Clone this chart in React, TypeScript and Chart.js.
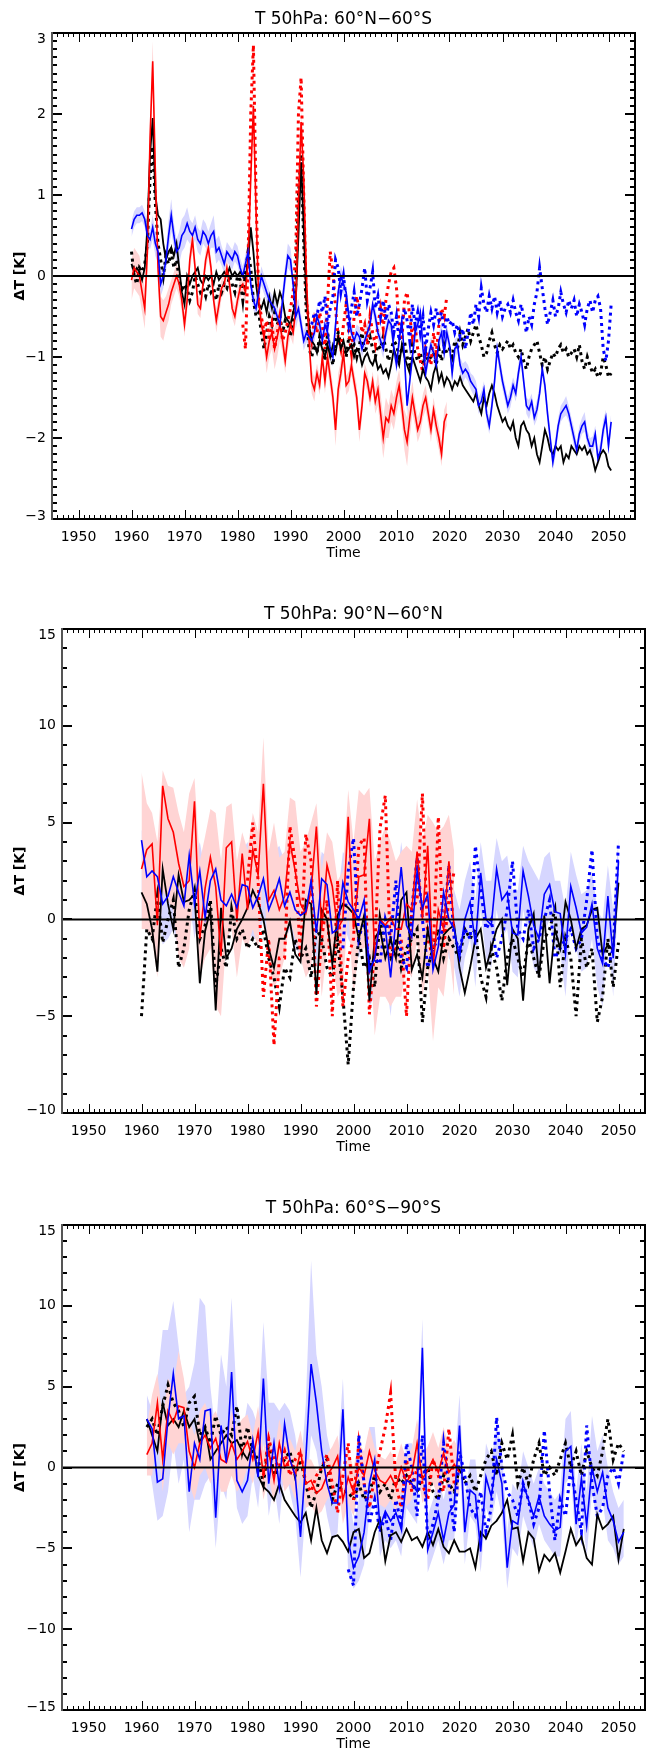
import { useEffect, useRef } from "react";
import { Chart, registerables } from "chart.js";

Chart.register(...registerables);

const FONT = "'DejaVu Sans', 'Liberation Sans', sans-serif";
const RED = "#ff0000";
const BLUE = "#0000ff";
const BLACK = "#000000";
const PINK = "#ffd4d4";
const LAVENDER = "#d6d6ff";

const X_MIN = 1945;
const X_MAX = 2055;
const YEAR_TICKS = [1950, 1960, 1970, 1980, 1990, 2000, 2010, 2020, 2030, 2040, 2050];

// ---------- Panel 1: 60°N–60°S (half-year samples) ----------
const P1_Y_TICKS = [-3, -2, -1, 0, 1, 2, 3];

const p1RedSolid = [
  -0.05, 0.1, 0.05, 0.0, -0.2, -0.4, 0.3, 1.7, 2.65, 1.3, 0.1, -0.5, -0.55, -0.45, -0.35, -0.2, -0.1, 0.0, -0.1, -0.3,
  -0.6, -0.3, 0.2, 0.45, 0.1, -0.35, -0.4, -0.1, 0.2, 0.35, 0.1, -0.3, -0.55, -0.35, -0.15, -0.1, 0.1, -0.1, -0.4, -0.5,
  -0.3, -0.15, -0.1, -0.2, 0.2, 1.2, 2.1, 0.8, -0.3, -0.6, -0.75, -1.0, -0.8, -0.7, -0.9, -0.75, -0.6, -0.8, -1.05, -0.75,
  -0.6, -0.7, -0.4, 0.9, 1.9, 1.2, 0.0, -0.8, -1.3, -1.4, -1.2, -1.35, -1.0, -1.3, -1.0, -1.25, -1.5, -1.9, -1.4, -1.2,
  -0.95, -1.35, -1.3, -1.1, -1.3, -1.5, -1.9, -1.6, -1.2, -1.3, -1.5, -1.3, -1.55, -1.4, -1.7, -2.0, -1.75, -1.8, -1.6, -1.7,
  -1.5, -1.35, -1.6, -1.9, -2.05, -1.75, -1.5, -1.7, -1.9, -1.8, -1.6, -1.5, -1.7, -1.9, -1.65, -1.85, -2.0, -2.2, -1.8, -1.7,
];
const p1RedSpread = [
  0.25, 0.25, 0.25, 0.25, 0.25, 0.25, 0.25, 0.25, 0.25, 0.25, 0.25, 0.25, 0.25, 0.2, 0.2, 0.15, 0.15, 0.15, 0.15, 0.15,
  0.15, 0.15, 0.15, 0.15, 0.12, 0.12, 0.12, 0.12, 0.12, 0.12, 0.12, 0.12, 0.15, 0.15, 0.12, 0.12, 0.12, 0.12, 0.12, 0.12,
  0.12, 0.12, 0.12, 0.15, 0.15, 0.15, 0.15, 0.15, 0.15, 0.15, 0.15, 0.2, 0.2, 0.2, 0.25, 0.25, 0.2, 0.15, 0.15, 0.15,
  0.15, 0.15, 0.15, 0.15, 0.15, 0.15, 0.15, 0.15, 0.15, 0.15, 0.12, 0.12, 0.12, 0.15, 0.15, 0.15, 0.15, 0.2, 0.2, 0.15,
  0.15, 0.12, 0.12, 0.12, 0.12, 0.15, 0.15, 0.15, 0.12, 0.12, 0.12, 0.12, 0.15, 0.2, 0.25, 0.25, 0.25, 0.2, 0.2, 0.2,
  0.2, 0.2, 0.2, 0.25, 0.3, 0.25, 0.2, 0.15, 0.15, 0.15, 0.15, 0.15, 0.15, 0.15, 0.15, 0.15, 0.15, 0.15, 0.15, 0.15,
];
const p1RedDotted = [
  -0.6, -0.9, 0.2, 2.0, 2.85, 1.0, -0.3, -0.5, -0.7, -0.55, -0.8, -0.6, -0.9, -0.7, -0.5, -0.8, -0.7, -0.55,
  -0.4, -0.2, 0.3, 2.0, 2.45, 1.0, -0.3, -0.6, -0.8, -0.55, -0.7, -0.45, -0.6, -0.9, -0.3, 0.3, 0.05, -0.4, -0.75, -0.9,
  -0.6, -0.35, -0.7, -0.95, -0.5, -0.25, -0.45, -0.7, -0.6, -0.85, -0.5, -0.7, -0.85, -0.6, -0.4, -0.65, -0.3, -0.1, 0.05, 0.1,
  -0.15, -0.6, -0.8, -0.3, -0.2, -0.5, -0.75, -0.6, -0.9, -1.05, -1.2, -0.9, -1.0, -1.1, -0.7, -0.95, -0.6, -0.4, -0.5, -0.25,
];
const p1BlueSolid = [
  0.58, 0.7, 0.75, 0.75, 0.78, 0.7, 0.5, 0.45, 0.6, 0.4, 0.3, -0.1, 0.0, 0.2, 0.5, 0.75, 0.5, 0.3, 0.35, 0.5,
  0.55, 0.65, 0.55, 0.5, 0.6, 0.45, 0.4, 0.55, 0.5, 0.4, 0.5, 0.55, 0.3, 0.35, 0.25, 0.15, 0.3, 0.25, 0.2, 0.3,
  0.25, 0.1, 0.0, 0.15, 0.3, -0.1, -0.3, -0.4, -0.2, 0.0, -0.1, -0.2, -0.3, -0.35, -0.4, -0.5, -0.6, -0.3, 0.0, 0.25,
  0.2, -0.1, -0.5, -0.4, -0.6, -0.8, -0.7, -0.75, -0.8, -0.7, -0.5, -0.6, -0.8, -0.6, -0.7, -0.9, -1.0, -0.6, -0.2, 0.0,
  -0.1, -0.2, -0.5, -0.7, -0.8, -0.7, -0.75, -0.9, -0.8, -0.7, -0.6, -0.35, -0.5, -0.7, -0.8, -0.9, -0.7, -0.55, -0.6, -0.9,
  -1.1, -0.8, -0.55, -1.0, -1.6, -1.3, -1.0, -0.7, -0.6, -0.45, -0.9, -1.2, -1.0, -0.85, -0.95, -1.1, -0.8, -0.7, -0.95, -0.7,
  -0.85, -1.2, -0.9, -0.85, -1.1, -1.2, -1.15, -1.2, -1.3, -1.35, -1.4, -1.6, -1.55, -1.4, -1.7, -1.85, -1.6, -1.3, -0.9, -1.1,
  -1.3, -1.45, -1.6, -1.5, -1.35, -1.45, -1.2, -1.0, -1.3, -1.6, -1.65, -1.55, -1.75, -1.65, -1.45, -1.15, -1.35, -1.7, -2.0, -2.3,
  -2.1, -1.85, -1.7, -1.65, -1.6, -1.7, -1.85, -2.0, -2.15, -1.95, -1.85, -1.8, -2.0, -2.1, -2.1, -1.95, -2.25, -2.15, -1.9, -1.75,
  -2.1, -1.8,
];
const p1BlueSpread = [
  0.1, 0.1, 0.1, 0.1, 0.1, 0.1, 0.12, 0.12, 0.15, 0.15, 0.15, 0.15, 0.15, 0.15, 0.2, 0.2, 0.15, 0.15, 0.2, 0.2,
  0.2, 0.2, 0.15, 0.15, 0.15, 0.15, 0.15, 0.15, 0.15, 0.15, 0.15, 0.2, 0.15, 0.15, 0.12, 0.12, 0.12, 0.12, 0.12, 0.12,
  0.12, 0.12, 0.12, 0.12, 0.12, 0.12, 0.12, 0.12, 0.12, 0.12, 0.12, 0.12, 0.12, 0.12, 0.12, 0.12, 0.12, 0.15, 0.15, 0.15,
  0.15, 0.15, 0.15, 0.12, 0.12, 0.12, 0.12, 0.12, 0.12, 0.12, 0.12, 0.12, 0.12, 0.12, 0.12, 0.12, 0.12, 0.12, 0.12, 0.12,
  0.12, 0.1, 0.1, 0.12, 0.1, 0.1, 0.12, 0.1, 0.1, 0.12, 0.1, 0.1, 0.12, 0.1, 0.1, 0.12, 0.1, 0.1, 0.12, 0.1,
  0.1, 0.12, 0.1, 0.1, 0.12, 0.1, 0.1, 0.12, 0.1, 0.1, 0.12, 0.1, 0.1, 0.1, 0.12, 0.1, 0.1, 0.12, 0.1, 0.1,
  0.1, 0.1, 0.12, 0.1, 0.1, 0.12, 0.1, 0.1, 0.1, 0.12, 0.1, 0.1, 0.12, 0.1, 0.1, 0.1, 0.12, 0.1, 0.1, 0.12,
  0.1, 0.1, 0.1, 0.12, 0.1, 0.1, 0.12, 0.1, 0.1, 0.1, 0.12, 0.1, 0.1, 0.12, 0.1, 0.1, 0.1, 0.12, 0.1, 0.1,
  0.12, 0.1, 0.1, 0.1, 0.12, 0.1, 0.1, 0.12, 0.1, 0.1, 0.1, 0.12, 0.1, 0.1, 0.12, 0.1, 0.1, 0.1, 0.12, 0.1,
  0.1, 0.1,
];
const p1BlueDotted = [
  -0.6, -0.45, -0.5, -0.3, -0.45, -0.25, -0.6, -0.4, -0.25, 0.2, 0.1, -0.2,
  0.0, -0.3, -0.6, -0.4, -0.2, -0.5, -0.35, -0.15, 0.1, -0.3, -0.15, 0.05, -0.4, -0.25, -0.5, -0.3, -0.55, -0.35, -0.45, -0.7,
  -0.5, -0.8, -0.6, -0.4, -0.55, -0.8, -0.35, -0.6, -0.45, -0.7, -0.5, -0.9, -0.65, -0.45, -0.6, -0.4, -0.55, -0.45, -0.7, -0.5,
  -0.6, -0.55, -0.7, -0.6, -0.75, -0.65, -0.9, -0.7, -0.45, -0.6, -0.35, -0.5, -0.15, -0.35, -0.45, -0.25, -0.4, -0.25, -0.45, -0.3,
  -0.5, -0.4, -0.35, -0.45, -0.3, -0.45, -0.55, -0.35, -0.5, -0.7, -0.5, -0.6, -0.35, -0.2, 0.1, -0.15, -0.4, -0.6, -0.45, -0.3,
  -0.5, -0.4, -0.2, -0.35, -0.45, -0.3, -0.4, -0.3, -0.5, -0.35, -0.45, -0.6, -0.4, -0.3, -0.45, -0.3, -0.25, -0.4, -0.9, -1.05,
  -0.8, -0.35,
];
const p1BlackSolid = [
  0.15, 0.05, 0.1, 0.05, -0.05, 0.1, 0.6, 1.5, 1.95, 1.0, 0.75, 0.7, 0.4, 0.2, 0.3, 0.35, 0.25, 0.4, 0.1, -0.2,
  -0.35, 0.0, -0.1, 0.0, 0.05, 0.1, -0.05, -0.1, 0.0, -0.05, 0.0, -0.1, 0.05, -0.05, 0.0, 0.05, 0.0, 0.1, 0.0, 0.05,
  0.0, 0.05, 0.0, -0.05, 0.2, 0.6, 0.3, -0.1, -0.35, -0.4, -0.3, -0.45, -0.25, -0.4, -0.2, -0.35, -0.2, -0.3, -0.5, -0.55,
  -0.6, -0.45, -0.3, 0.5, 1.4, 0.6, -0.3, -0.6, -0.8, -0.85, -0.95, -0.8, -0.9, -1.0, -0.85, -1.0, -0.85, -0.95, -0.75, -0.9,
  -0.8, -0.95, -0.9, -0.85, -1.0, -0.9, -0.95, -1.1, -1.0, -0.95, -1.05, -1.1, -1.0, -1.15, -1.1, -1.2, -1.15, -1.25, -1.1, -0.9,
  -1.0, -1.1, -0.85, -1.0, -1.1, -1.2, -1.0, -1.1, -1.2, -1.3, -1.15, -1.25, -1.3, -1.4, -1.2, -1.1, -1.3, -1.2, -1.35, -1.25,
  -1.3, -1.4, -1.3, -1.35, -1.25, -1.35, -1.4, -1.45, -1.5, -1.55, -1.45, -1.6, -1.7, -1.5, -1.6, -1.45, -1.35, -1.45, -1.6, -1.7,
  -1.8, -1.75, -1.85, -1.9, -1.8, -2.0, -2.1, -1.85, -1.8, -1.9, -1.95, -2.1, -2.0, -2.2, -2.3, -2.1, -1.9, -2.0, -2.15, -2.2,
  -2.1, -2.15, -2.1, -2.3, -2.2, -2.25, -2.1, -2.15, -2.2, -2.1, -2.15, -2.1, -2.2, -2.15, -2.25, -2.4, -2.3, -2.2, -2.15, -2.2,
  -2.35, -2.4,
];
const p1BlackDotted = [
  0.3, 0.0, -0.1, 0.1, 0.05, 0.15, 0.4, 1.2, 1.6, 0.9, 0.4, 0.2, 0.0, 0.25, 0.15, 0.3, 0.1, 0.2, -0.05, -0.2,
  -0.1, -0.15, -0.3, -0.2, 0.0, -0.1, -0.2, -0.15, -0.25, -0.1, -0.2, -0.15, -0.3, -0.1, -0.2, -0.1, -0.15, 0.0, -0.1, -0.2,
  0.0, -0.05, -0.3, 0.05, 0.3, 0.1, -0.3, -0.5, -0.45, -0.7, -0.9, -0.7, -0.5, -0.6, -0.45, -0.6, -0.5, -0.7, -0.55, -0.6,
  -0.75, -0.5, -0.1, 1.0, 1.5, 0.4, -0.5, -0.9, -1.0, -0.85, -0.95, -0.75, -0.85, -1.05, -0.7, -0.95, -1.1, -0.8, -0.7, -0.85,
  -0.9, -1.0, -0.75, -0.9, -0.85, -1.0, -0.85, -0.7, -0.95, -0.85, -0.75, -0.9, -1.0, -0.85, -0.9, -0.75, -0.9, -1.05, -0.9, -0.8,
  -0.85, -1.0, -0.9, -0.8, -1.0, -1.1, -0.85, -0.95, -1.05, -0.95, -1.1, -0.95, -1.05, -1.0, -0.95, -1.1, -0.9, -1.05, -0.85, -0.95,
  -0.9, -1.0, -0.8, -0.9, -0.7, -0.85, -0.75, -0.65, -0.8, -0.7, -0.6, -0.75, -0.85, -1.0, -0.95, -0.8, -0.7, -0.85, -0.95, -0.85,
  -0.9, -0.85, -0.8, -0.9, -0.85, -0.95, -1.0, -0.9, -1.05, -1.15, -1.0, -0.9, -0.85, -0.8, -0.95, -1.1, -1.0, -1.15, -1.05, -0.95,
  -1.0, -0.9, -0.85, -0.95, -0.9, -1.0, -0.95, -0.9, -1.0, -0.85, -1.05, -1.15, -1.0, -1.1, -1.2, -1.15, -1.25, -1.2, -1.0, -1.1,
  -1.25, -1.2,
];

// ---------- Panel 2: 90°N–60°N (annual) ----------
const P2_Y_TICKS = [-10, -5, 0, 5, 10, 15];

const p2RedSolid = [
  2.6, 3.6, 3.9, -0.3, 6.9, 5.2, 4.5, 2.9, 1.7, 2.0,
  6.1, -1.0, 1.6, 3.2, 1.7, -1.9, 3.7, 4.0, -0.1, 3.4,
  0.5, 3.6, 2.3, 7.0, 1.0, 1.5, 0.5, 1.2, 4.0, 2.5,
  0.8, 0.3, 1.5, 4.8, -0.5, 2.8, 1.7, -0.5, 0.0, 5.3,
  -0.5, 2.2, 2.3, 5.2, -2.0, 0.0, -0.3, 0.1, -0.5, -0.5,
  0.8, 0.5, 3.5, 0.0, 3.8, -2.5, 0.5, -0.5, 3.0, -0.5,
];
const p2RedUpper = [
  7.6, 6.0, 5.5, 4.0, 7.7, 6.9, 6.8, 5.5, 4.5, 6.5,
  7.3, 3.0, 4.3, 5.7, 5.5, 3.0, 5.8, 6.0, 3.0, 4.5,
  3.6, 5.5, 4.5, 9.4, 3.5, 5.0, 3.2, 3.5, 6.3, 6.1,
  3.5, 4.0, 5.0, 6.0, 2.5, 4.5, 4.0, 2.0, 2.5, 6.7,
  4.0, 6.7, 6.4, 6.8, 3.0, 4.0, 4.8, 4.0, 3.0, 3.5,
  3.8, 3.5, 6.2, 4.0, 5.4, 5.0, 4.5, 4.8, 5.4, 3.5,
];
const p2RedLower = [
  -0.5, -0.5, -1.0, -3.0, 1.5, 1.0, 0.5, -2.0, -2.5, -1.5,
  2.0, -3.0, -2.0, -1.5, -4.5, -5.0, -1.0, -0.5, -3.0, -1.0,
  -1.5, -0.5, -1.5, 2.5, -2.5, -3.5, -3.0, -2.0, 0.0, -1.0,
  -2.0, -3.0, -2.5, 0.0, -4.0, -1.5, -2.0, -4.0, -3.5, 0.5,
  -4.0, -1.5, -1.5, -1.0, -6.0, -4.0, -4.0, -4.5, -4.0, -4.0,
  -2.5, -3.0, -1.0, -4.0, -2.5, -6.3, -3.5, -4.0, -1.5, -4.0,
];
const p2RedDotted = [
  2.0, 5.0, 2.0, -4.0, -1.0, -6.5, -2.0, -2.0, 4.8, 3.0,
  -2.0, 4.4, 3.0, -4.5, -1.0, 1.0, -5.0, 2.0, -4.5, -2.0,
  -1.0, 3.8, 4.2, -4.9, -1.5, 4.7, 6.4, -2.0, -1.5, -1.0,
  -5.0, 0.5, 1.0, 6.5, -1.0, -2.0, 5.3, -1.5, 1.0, 2.5,
];
const p2BlueSolid = [
  4.1, 2.2, 2.5, 2.2, 0.8, 1.2, 2.2, 1.4, 0.7, 3.3,
  0.8, 2.5, 0.1, 2.0, 2.6, 1.0, 0.7, 1.3, 0.6, 1.8,
  1.7, 0.6, 1.2, 2.1, 0.5, 1.2, 2.1, 0.7, 1.4, 0.5,
  0.2, 0.4, 2.0, -0.7, 2.1, 1.8, -0.7, -0.5, 1.9, 0.9,
  0.5, 0.0, 1.0, -2.7, -2.0, -0.1, -0.4, -3.0, 0.0, 2.7,
  -0.3, -0.9, 2.5, 0.6, 1.3, -2.6, -1.4, 1.4, 0.0, -0.5,
  -2.0, 0.0, 0.9, -1.3, 2.4, 0.0, -0.3, 2.6, 1.0, 1.4,
  -0.7, -0.8, 2.5, 1.2, -0.3, -1.0, 1.3, 1.8, 0.4, 0.3,
  -1.8, 1.7, 0.6, -0.7, -0.4, 0.8, -1.5, -2.3, 1.2, -2.0,
  3.0,
];
const p2BlueUpper = [
  4.6, 4.3, 4.2, 3.9, 3.5, 3.5, 4.0, 3.5, 3.0, 4.6,
  3.0, 4.0, 2.5, 4.0, 4.8, 3.0, 2.7, 3.5, 3.0, 3.5,
  4.0, 3.0, 3.5, 4.5, 3.0, 3.5, 3.8, 3.0, 3.5, 3.0,
  2.0, 2.5, 3.5, 1.5, 3.5, 3.2, 1.0, 1.0, 3.5, 3.0,
  2.5, 1.5, 2.5, -0.5, 0.5, 1.5, 1.5, -0.5, 1.5, 4.0,
  2.0, 1.5, 4.0, 2.5, 3.0, -0.5, 1.0, 3.0, 2.0, 1.5,
  0.5, 2.0, 3.0, 1.0, 4.0, 2.0, 2.0, 4.2, 3.0, 3.3,
  1.5, 1.5, 3.8, 3.0, 2.5, 2.0, 3.2, 3.5, 2.0, 2.0,
  0.5, 3.5, 2.3, 1.3, 1.5, 2.5, 0.5, 0.0, 2.8, 0.5,
  4.2,
];
const p2BlueLower = [
  0.0, -0.5, 0.5, 0.5, -1.3, -1.0, -0.5, -1.5, -1.2, 1.0,
  -1.0, 0.5, -1.5, 0.0, 0.5, -1.0, -1.0, -0.5, -1.0, 0.0,
  -0.5, -1.0, -1.0, 0.0, -1.2, -0.5, 0.0, -1.2, -0.5, -1.5,
  -1.8, -1.5, 0.0, -2.5, 0.0, 0.0, -2.5, -2.3, 0.0, -1.0,
  -1.5, -2.0, -1.0, -4.5, -4.0, -2.0, -2.5, -5.0, -2.0, 1.0,
  -2.5, -3.0, 0.5, -1.2, -0.5, -4.5, -3.5, -0.5, -2.0, -2.5,
  -4.0, -2.0, -1.0, -3.5, 0.5, -2.0, -2.5, 0.5, -1.0, -0.5,
  -2.7, -3.0, 0.5, -0.8, -2.5, -3.0, -0.7, 0.0, -1.5, -1.7,
  -4.0, -0.3, -1.5, -2.7, -2.5, -1.0, -3.5, -4.5, -0.5, -4.0,
  1.5,
];
const p2BlueDotted = [
  -1.5, 2.5,
  4.2, -1.0, 0.0, -2.5, -2.0, -2.3, 0.0, -1.0, 2.0, -2.0,
  -2.5, 0.5, 3.2, 0.0, -2.5, -1.5, -1.0, -0.5, 2.8, -1.0,
  -1.5, -0.5, -1.0, 3.8, 1.5, -0.5, 0.0, -2.0, -1.0, 0.5,
  3.0, -0.5, -1.0, 0.5, -1.5, -1.0, 0.0, 1.0, -2.0, -1.5,
  -1.0, -0.5, -1.5, -1.0, 1.0, 3.6, -1.0, -2.0, -2.5, -1.5,
  4.0,
];
const p2BlackSolid = [
  1.4, 0.8, -0.5, -2.7, 2.6, 0.8, -0.5, 2.3, 0.9, 1.0,
  1.3, -3.3, -0.6, 0.5, -4.7, 0.6, -2.0, -1.5, -0.5, 0.0,
  0.6, 1.5, 0.9, 0.0, -1.5, -2.5, -1.0, -1.0, -0.1, -1.8,
  -2.2, 1.0, 0.8, -3.9, 0.5, 0.0, -2.3, 0.2, 0.8, 0.6,
  0.3, -1.0, 0.2, -4.2, -1.0, -0.5, -2.0, -1.0, -2.0, 1.0,
  1.4, -2.6, -1.8, -3.0, -0.5, -2.0, -2.7, -0.8, -0.5, -0.3,
  -2.5, -3.8, -2.5, -1.0, -0.5, -2.5, -1.5, -0.5, 0.0, -3.4,
  -0.5, -1.0, -4.2, -0.5, 0.3, -3.0, 0.2, -3.3, -0.5, -1.5,
  0.9, 0.0, -1.5, -0.5, -0.3, 0.5, 0.6, -1.8, -1.3, -1.6,
  1.9,
];
const p2BlackDotted = [
  -5.0, -0.5, -1.0, 1.2, -1.2, 0.0, 1.0, -2.5, -1.5, 0.5,
  1.5, -1.0, -0.3, 1.0, -3.5, -1.5, -2.5, 0.5, -1.0, -0.5,
  -1.5, -1.0, -1.5, -0.5, -2.0, -3.0, -4.5, -2.5, -3.0, -1.0,
  -2.0, -1.5, -3.0, -0.5, -1.0, -2.5, -3.0, -1.0, -4.0, -7.5,
  -3.5, -1.0, -2.5, -2.0, -3.5, 0.0, -1.5, -2.0, -1.0, -2.5,
  -1.5, -1.0, -0.5, -5.3, -2.5, -1.5, -0.5, -2.0, -1.0, -1.5,
  -2.0, -0.5, -1.0, -0.5, -3.0, -4.0, -1.5, -2.5, -4.2, -2.0,
  -1.0, -2.0, -3.0, -1.0, -2.0, -3.0, -1.0, -0.5, 0.5, -3.5,
  -1.0, -2.0, -5.0, -1.0, -2.5, -1.5, -5.3, -4.0, -1.0, -3.5,
  -1.2,
];

// ---------- Panel 3: 60°S–90°S (annual) ----------
const P3_Y_TICKS = [-15, -10, -5, 0, 5, 10, 15];

const p3RedSolid = [
  0.8, 1.5, 4.0, 0.5, 3.5, 2.8, 3.8, 3.7, 1.0, 0.0,
  1.5, 2.0, 1.2, 1.8, 0.5, 0.3, 1.5, 0.5, 1.0, 1.6,
  0.5, 2.2, -0.5, 1.0, -0.8, 1.5, 0.0, 0.5, -0.5, 1.0,
  -1.0, -0.8, -1.6, -1.3, -0.5, 0.0, 0.7, -2.0, -0.6, -1.5,
  0.0, -0.5, 1.0, -0.2, -0.8, -1.0, -0.5, -1.2, 0.0, -0.9,
  -0.4, 1.5, -0.7, -0.2, 0.5, -0.3, 0.9, -0.3, 0.2, -0.3,
];
const p3RedUpper = [
  2.5, 4.5, 5.8, 3.0, 5.5, 5.0, 7.2, 5.5, 3.0, 2.0,
  3.5, 4.0, 3.0, 3.5, 2.5, 2.0, 3.5, 2.5, 3.0, 3.3,
  2.0, 3.8, 1.0, 2.5, 0.7, 3.0, 1.5, 1.8, 1.0, 2.3,
  0.5, 0.5, -0.2, 0.0, 0.8, 1.3, 2.0, -0.5, 1.0, 0.0,
  1.5, 1.0, 2.5, 1.2, 0.7, 0.5, 1.0, 0.3, 1.5, 0.5,
  1.2, 3.0, 0.8, 1.3, 2.2, 1.2, 2.5, 1.2, 1.7, 1.0,
];
const p3RedLower = [
  -0.5, -0.5, 2.0, -1.5, 1.5, 0.8, 1.5, 1.5, -1.0, -2.0,
  -0.5, 0.0, -1.0, 0.0, -1.5, -1.5, -0.5, -1.5, -1.0, 0.0,
  -1.0, 0.5, -2.0, -0.5, -2.3, 0.0, -1.5, -1.0, -2.0, -0.5,
  -2.5, -2.3, -3.0, -2.7, -2.0, -1.5, -0.7, -3.5, -2.2, -3.0,
  -1.5, -2.0, -0.5, -1.7, -2.3, -2.5, -2.0, -2.7, -1.5, -2.4,
  -2.0, 0.0, -2.2, -1.7, -1.0, -1.8, -0.5, -1.8, -1.3, -1.8,
];
const p3RedDotted = [
  -0.5, 1.8, 0.5, 0.0, 1.0, -0.5, 0.5,
  1.0, -1.0, -1.5, -0.5, 0.0, 0.8, -1.0, -2.8, -0.5, 1.5,
  -2.0, 1.5, -1.0, -2.5, -0.5, 1.0, 2.5, 4.6, -1.0, -2.5,
  0.5, -1.5, 0.0, -1.0, -2.0, 0.5, -0.5, -1.5, 2.4, -1.0,
];
const p3BlueSolid = [
  3.0, 2.4, -0.9, -0.7, 3.0, 5.8, 3.0, 3.2, -1.5, 1.5,
  0.5, 3.5, 3.6, -3.1, 2.6, 0.3, 5.9, -0.8, -1.5, -0.8,
  1.7, -0.6, 5.5, -1.0, 1.5, -1.2, 2.7, 0.5, -0.5, -4.3,
  0.5, 6.4, 4.0, 1.0, -1.0, -2.2, -2.2, 3.6, -4.5, -6.2,
  -5.5, -4.0, -1.0, 0.5, -3.7, -2.7, -3.3, -2.8, -3.8, -0.8,
  -1.0, -1.5, 7.4, -5.1, -4.0, -2.8, -4.5, -2.8, -2.3, 2.6,
  -4.0, -1.4, -1.7, -5.2, -0.6, -1.8, 0.5, -1.0, -6.2, -3.3,
  -3.5, -1.0, -2.0, -3.0, -1.8, -3.0, -3.5, -3.9, -3.7, 1.0,
  1.3, -3.5, -0.7, -3.6, 0.0, -1.5, -0.3, -2.5, -3.3, -4.6,
  -4.0,
];
const p3BlueUpper = [
  4.5, 3.5, 5.5, 8.5, 8.5, 10.3, 7.5, 4.5, 5.0, 6.5,
  10.5, 10.0, 5.0, 2.0, 7.0, 5.0, 10.5, 4.0, 2.0, 4.0,
  3.5, 2.5, 9.0, 4.0, 4.0, 3.5, 4.0, 3.5, 2.0, -0.5,
  4.0, 12.8, 7.0, 5.0, 2.0, 0.5, 0.5, 5.5, -1.5, -3.5,
  -2.0, 0.0, 2.5, 2.5, -1.5, -1.0, -1.5, -1.0, -1.5, 1.5,
  1.5, 1.0, 9.2, -3.0, -2.0, -0.5, -2.0, -0.5, 0.0, 4.5,
  -2.0, 0.5, 0.5, -3.0, 1.5, 0.5, 2.5, 1.0, -4.0, -1.0,
  -1.5, 1.0, 0.0, -1.0, 0.0, -1.0, -1.5, -2.0, -1.5, 3.0,
  3.5, -1.5, 1.5, -1.5, 3.2, 1.0, 2.0, 0.0, -1.5, -2.5,
  -2.0,
];
const p3BlueLower = [
  1.0, -1.0, -3.3, -3.0, -1.5, 1.5, -1.0, 0.5, -4.0, -2.0,
  -2.0, -1.0, -0.5, -5.0, -1.0, -2.0, 2.0, -2.5, -3.5, -3.0,
  -0.5, -2.5, 1.5, -3.0, -1.0, -3.5, 0.0, -1.5, -3.0, -6.8,
  -2.5, 2.0, 1.0, -1.0, -3.0, -4.5, -4.0, 1.5, -6.5, -7.5,
  -7.0, -6.0, -3.0, -1.5, -5.5, -4.5, -5.0, -4.5, -5.5, -2.5,
  -3.0, -3.5, 5.5, -6.5, -5.5, -4.5, -6.0, -4.5, -4.5, 0.5,
  -6.0, -3.0, -3.5, -6.5, -2.5, -3.5, -1.5, -3.0, -7.5, -5.0,
  -5.5, -3.0, -4.0, -5.0, -3.5, -4.5, -5.0, -5.5, -5.5, -1.0,
  -0.5, -5.0, -2.5, -5.5, -1.5, -3.5, -2.0, -4.5, -5.0, -6.0,
  -5.5,
];
const p3BlueDotted = [
  -6.3, -7.3,
  2.0, -1.0, -3.5, -2.0, -4.0, -3.0, -4.5, -2.0, -3.5, 1.5,
  0.0, -3.0, 2.0, -4.5, -3.5, -2.0, 1.5, -1.0, -4.0, 1.0,
  -0.5, -2.5, -3.0, -1.5, -4.0, -2.5, 3.1, 0.0, -1.5, -2.0,
  -3.0, -1.0, -2.0, -3.5, -2.5, 2.3, -1.5, -4.5, -2.0, -3.0,
  0.0, -2.0, -4.0, 2.6, -1.0, -3.0, -2.5, -0.5, 0.0, -1.0,
  1.0,
];
const p3BlackSolid = [
  3.0, 2.0, 1.0, 4.0, 2.6, 3.0, 2.5, 3.5, 2.5, 3.0,
  1.5, 2.5, 0.5, 1.0, 1.5, 2.0, 1.5, 1.7, 1.0, 0.5,
  1.5, -0.5, -1.2, -1.5, -2.0, -1.0, -2.0, -2.5, -3.0, -3.4,
  -2.8, -4.5, -2.5, -4.5, -5.3, -4.3, -4.2, -4.6, -5.2, -4.0,
  -3.8, -5.6, -5.3, -4.0, -3.2, -5.8, -4.2, -4.0, -4.6, -3.8,
  -4.5, -4.3, -4.9, -4.0, -4.8, -3.8, -4.9, -5.3, -4.5, -5.2,
  -5.2, -5.0, -6.2, -4.0, -4.4, -3.6, -3.3, -2.8, -2.0, -3.8,
  -3.7, -5.8, -4.0, -4.4, -6.4, -5.4, -5.8, -5.3, -6.5, -5.2,
  -3.8, -4.8, -4.3, -5.6, -6.0, -2.9, -3.8, -3.5, -3.0, -5.7,
  -3.8,
];
const p3BlackDotted = [
  2.5, 3.0, 2.0, 3.8, 5.1, 4.0, 3.5, 2.5, 4.0, 4.4,
  2.0, 2.5, 1.5, 3.2, 2.0, 2.5, 2.0, 3.8, 1.0, 2.5,
  1.0, 0.5, -1.0, 1.5, -0.5, 0.0, 0.5, 1.0, -0.5, 0.5,
  -1.0, -2.5, -1.5, 0.0, 0.5, -2.0, -1.0, -1.5, -1.5, -2.0,
  -1.0, -2.0, -1.5, -0.5, -1.5, -1.0, -2.0, -0.5, -1.0, -0.5,
  -1.0, -1.5, -0.5, 0.0, -1.5, -2.0, -0.5, -1.0, -1.5, 0.0,
  -1.0, -0.5, -1.5, -0.5, 0.5, 1.0, -0.5, 1.5, 0.5, 2.0,
  -1.0, 0.0, -1.0, 0.5, 1.5, -0.5, 0.0, -0.5, 0.5, 1.5,
  0.0, 1.0, -0.5, 1.0, 0.0, -0.5, 1.0, 3.0, 0.5, 1.5,
  1.0,
];

type Series = { start: number; step: number; values: number[] };
type Band = { start: number; step: number; lower: number[]; upper: number[] };

interface PanelCfg {
  title: string;
  top: number;
  height: number;
  pad: { left: number; top: number; right: number; bottom: number };
  titleGap: number;
  yMin: number;
  yMax: number;
  yMinor: number;
  yTicks: number[];
  redSolid: Series;
  redDotted: Series;
  blueSolid: Series;
  blueDotted: Series;
  blackSolid: Series;
  blackDotted: Series;
  redBand: Band;
  blueBand: Band;
}

const withSpread = (start: number, step: number, values: number[], spread: number[]): Band => ({
  start,
  step,
  lower: values.map((v, i) => v - spread[i]),
  upper: values.map((v, i) => v + spread[i]),
});

const PANELS: PanelCfg[] = [
  {
    title: "T 50hPa: 60°N−60°S",
    top: 0,
    height: 575,
    pad: { left: 52, top: 33, right: 11, bottom: 56 },
    titleGap: 13,
    yMin: -3,
    yMax: 3,
    yMinor: 0.1,
    yTicks: P1_Y_TICKS,
    redSolid: { start: 1960, step: 0.5, values: p1RedSolid },
    redDotted: { start: 1981, step: 0.5, values: p1RedDotted },
    blueSolid: { start: 1960, step: 0.5, values: p1BlueSolid },
    blueDotted: { start: 1994, step: 0.5, values: p1BlueDotted },
    blackSolid: { start: 1960, step: 0.5, values: p1BlackSolid },
    blackDotted: { start: 1960, step: 0.5, values: p1BlackDotted },
    redBand: withSpread(1960, 0.5, p1RedSolid, p1RedSpread),
    blueBand: withSpread(1960, 0.5, p1BlueSolid, p1BlueSpread),
  },
  {
    title: "T 50hPa: 90°N−60°N",
    top: 575,
    height: 585,
    pad: { left: 62, top: 54, right: 1, bottom: 47 },
    titleGap: 14,
    yMin: -10,
    yMax: 15,
    yMinor: 1,
    yTicks: P2_Y_TICKS,
    redSolid: { start: 1960, step: 1, values: p2RedSolid },
    redDotted: { start: 1980, step: 1, values: p2RedDotted },
    blueSolid: { start: 1960, step: 1, values: p2BlueSolid },
    blueDotted: { start: 1998, step: 1, values: p2BlueDotted },
    blackSolid: { start: 1960, step: 1, values: p2BlackSolid },
    blackDotted: { start: 1960, step: 1, values: p2BlackDotted },
    redBand: { start: 1960, step: 1, lower: p2RedLower, upper: p2RedUpper },
    blueBand: { start: 1960, step: 1, lower: p2BlueLower, upper: p2BlueUpper },
  },
  {
    title: "T 50hPa: 60°S−90°S",
    top: 1160,
    height: 591,
    pad: { left: 62, top: 65, right: 1, bottom: 41 },
    titleGap: 16,
    yMin: -15,
    yMax: 15,
    yMinor: 1,
    yTicks: P3_Y_TICKS,
    redSolid: { start: 1961, step: 1, values: p3RedSolid },
    redDotted: { start: 1983, step: 1, values: p3RedDotted },
    blueSolid: { start: 1961, step: 1, values: p3BlueSolid },
    blueDotted: { start: 1999, step: 1, values: p3BlueDotted },
    blackSolid: { start: 1961, step: 1, values: p3BlackSolid },
    blackDotted: { start: 1961, step: 1, values: p3BlackDotted },
    redBand: { start: 1961, step: 1, lower: p3RedLower, upper: p3RedUpper },
    blueBand: { start: 1961, step: 1, lower: p3BlueLower, upper: p3BlueUpper },
  },
];

const toPoints = (start: number, step: number, values: number[]) =>
  values.map((v, i) => ({ x: start + i * step, y: v }));

function lineDataset(s: Series, color: string, dotted: boolean, order: number) {
  return {
    data: toPoints(s.start, s.step, s.values),
    borderColor: color,
    borderWidth: dotted ? 3 : color === BLACK ? 1.8 : 1.6,
    borderDash: dotted ? [3, 4] : [],
    borderCapStyle: "butt" as const,
    pointRadius: 0,
    fill: false,
    order,
  };
}

function buildDatasets(p: PanelCfg) {
  return [
    // 0: reference line at zero
    {
      data: [
        { x: X_MIN, y: 0 },
        { x: X_MAX, y: 0 },
      ],
      borderColor: BLACK,
      borderWidth: 2,
      pointRadius: 0,
      fill: false,
      order: 0,
    },
    lineDataset(p.blueSolid, BLUE, false, 1),
    lineDataset(p.redSolid, RED, false, 2),
    lineDataset(p.blackSolid, BLACK, false, 3),
    lineDataset(p.blueDotted, BLUE, true, 4),
    lineDataset(p.redDotted, RED, true, 5),
    lineDataset(p.blackDotted, BLACK, true, 6),
    // 7/8: red model spread
    {
      data: toPoints(p.redBand.start, p.redBand.step, p.redBand.upper),
      borderWidth: 0,
      borderColor: "rgba(0,0,0,0)",
      pointRadius: 0,
      fill: false,
      order: 7,
    },
    {
      data: toPoints(p.redBand.start, p.redBand.step, p.redBand.lower),
      borderWidth: 0,
      borderColor: "rgba(0,0,0,0)",
      backgroundColor: PINK,
      pointRadius: 0,
      fill: 7,
      order: 8,
    },
    // 9/10: blue model spread
    {
      data: toPoints(p.blueBand.start, p.blueBand.step, p.blueBand.upper),
      borderWidth: 0,
      borderColor: "rgba(0,0,0,0)",
      pointRadius: 0,
      fill: false,
      order: 9,
    },
    {
      data: toPoints(p.blueBand.start, p.blueBand.step, p.blueBand.lower),
      borderWidth: 0,
      borderColor: "rgba(0,0,0,0)",
      backgroundColor: LAVENDER,
      pointRadius: 0,
      fill: 9,
      order: 10,
    },
  ];
}

const fmt = (v: number) => (v < 0 ? "−" + Math.abs(v) : String(v));

function framePlugin(p: PanelCfg) {
  return {
    id: "idlFrame",
    afterDatasetsDraw(chart: any) {
      const { ctx, chartArea: a, scales } = chart;
      const xs = scales.x;
      const ys = scales.y;
      ctx.save();

      // year ticks on top and bottom edges
      ctx.strokeStyle = BLACK;
      ctx.lineWidth = 1;
      ctx.beginPath();
      for (let yr = X_MIN + 1; yr < X_MAX; yr++) {
        const px = Math.round(xs.getPixelForValue(yr)) + 0.5;
        const len = yr % 10 === 0 ? 9 : 4;
        ctx.moveTo(px, a.top);
        ctx.lineTo(px, a.top + len);
        ctx.moveTo(px, a.bottom);
        ctx.lineTo(px, a.bottom - len);
      }
      ctx.stroke();

      // value ticks on left and right edges
      ctx.lineWidth = 2;
      ctx.beginPath();
      const n = Math.round((p.yMax - p.yMin) / p.yMinor);
      const major = p.yTicks[1] - p.yTicks[0];
      for (let i = 1; i < n; i++) {
        const v = p.yMin + i * p.yMinor;
        const r = v / major;
        const isMajor = Math.abs(r - Math.round(r)) < 1e-6;
        const py = Math.round(ys.getPixelForValue(v));
        const len = isMajor ? 10 : 5;
        ctx.moveTo(a.left, py);
        ctx.lineTo(a.left + len, py);
        ctx.moveTo(a.right, py);
        ctx.lineTo(a.right - len, py);
      }
      ctx.stroke();

      // frame
      ctx.lineWidth = 2;
      ctx.strokeStyle = BLACK;
      ctx.beginPath();
      ctx.moveTo(a.left, a.top);
      ctx.lineTo(a.right, a.top);
      ctx.lineTo(a.right, a.bottom);
      ctx.lineTo(a.left, a.bottom);
      ctx.stroke();
      ctx.strokeStyle = "#555";
      ctx.beginPath();
      ctx.moveTo(a.left, a.top - 1);
      ctx.lineTo(a.left, a.bottom + 1);
      ctx.stroke();

      // labels
      ctx.fillStyle = BLACK;
      ctx.font = `14px ${FONT}`;
      ctx.textBaseline = "middle";
      ctx.textAlign = "center";
      for (const yr of YEAR_TICKS) {
        ctx.fillText(String(yr), xs.getPixelForValue(yr), a.bottom + 18);
      }
      ctx.textAlign = "right";
      for (const v of p.yTicks) {
        let py = ys.getPixelForValue(v);
        py = Math.min(Math.max(py, a.top + 6), a.bottom - 3);
        ctx.fillText(fmt(v), a.left - 6, py);
      }

      ctx.textAlign = "center";
      const cx = (a.left + a.right) / 2;
      ctx.fillText("Time", cx, a.bottom + 34);

      ctx.font = `17px ${FONT}`;
      ctx.fillText(p.title, cx, a.top - p.titleGap);

      ctx.font = `bold 14px ${FONT}`;
      ctx.translate(20, (a.top + a.bottom) / 2);
      ctx.rotate(-Math.PI / 2);
      ctx.fillText("ΔT [K]", 0, 0);

      ctx.restore();
    },
  };
}

function PanelChart({ cfg }: { cfg: PanelCfg }) {
  const ref = useRef<HTMLCanvasElement | null>(null);
  useEffect(() => {
    if (!ref.current) return;
    const chart = new Chart(ref.current, {
      type: "line",
      data: { datasets: buildDatasets(cfg) as any },
      options: {
        responsive: false,
        animation: false,
        devicePixelRatio: 1,
        events: [],
        layout: { padding: cfg.pad },
        elements: { line: { tension: 0 }, point: { radius: 0 } },
        plugins: {
          legend: { display: false },
          tooltip: { enabled: false },
          title: { display: false },
        },
        scales: {
          x: { type: "linear", min: X_MIN, max: X_MAX, display: false },
          y: { type: "linear", min: cfg.yMin, max: cfg.yMax, display: false },
        },
      },
      plugins: [framePlugin(cfg)],
    });
    return () => chart.destroy();
  }, [cfg]);
  return (
    <canvas
      ref={ref}
      width={646}
      height={cfg.height}
      style={{ position: "absolute", left: 0, top: cfg.top, width: 646, height: cfg.height }}
    />
  );
}

export default function App() {
  return (
    <div style={{ position: "absolute", left: 0, top: 0, width: 646, height: 1751, background: "#fff" }}>
      {PANELS.map((p) => (
        <PanelChart key={p.title} cfg={p} />
      ))}
    </div>
  );
}
